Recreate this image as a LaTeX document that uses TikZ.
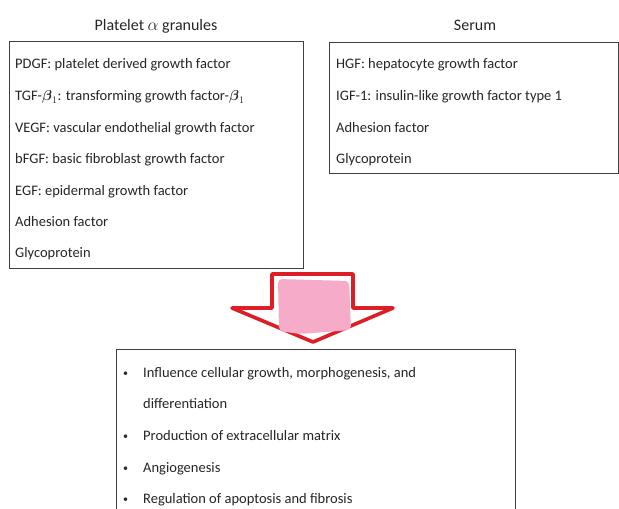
\documentclass[tikz,border=0pt]{standalone}
\usepackage{amsmath}
\usepackage{fontspec}
\setmainfont{Carlito}
\usepackage{xcolor}
\usepackage{tikz}
\usetikzlibrary{positioning}

\definecolor{arrowred}{RGB}{222,30,38}
\definecolor{blobpink}{RGB}{246,172,200}

\begin{document}
\begin{tikzpicture}[
  x=1pt, y=-1pt,
  entry/.style={anchor=base west, inner sep=0pt, text=black!85, font=\fontsize{14.5}{17}\selectfont},
  heading/.style={anchor=base, inner sep=0pt, text=black!85, font=\fontsize{16}{19}\selectfont},
  frame/.style={draw=black!75, line width=0.9pt},
  bigarrow/.style={draw=arrowred, line width=3.6pt, line join=round, fill=white}
]
  \clip (0,0) rectangle (619,509);
  \fill[white] (0,0) rectangle (619,509);

  % headings
  \node[heading] (plt) at (156,30) {Platelet $\alpha$ granules};
  \node[heading] (ser) at (475,30) {Serum};

  % left box
  \draw[frame] (9,41) rectangle (303,268);
  \node[entry] (pdgf) at (15,68)  {PDGF: platelet derived growth factor};
  \node[entry] (tgf)  at (15,100) {TGF-$\boldsymbol{\beta}_1$: transforming growth factor-$\boldsymbol{\beta}_1$};
  \node[entry] (vegf) at (15,132) {VEGF: vascular endothelial growth factor};
  \node[entry] (bfgf) at (15,163) {bFGF: basic fibroblast growth factor};
  \node[entry] (egf)  at (15,195) {EGF: epidermal growth factor};
  \node[entry] (adl)  at (15,226) {Adhesion factor};
  \node[entry] (gpl)  at (15,257) {Glycoprotein};

  % right box
  \draw[frame] (329,42) rectangle (618,173);
  \node[entry] (hgf)  at (336,68)  {HGF: hepatocyte growth factor};
  \node[entry] (igf)  at (336,100) {IGF-1: insulin-like growth factor type 1};
  \node[entry] (adr)  at (336,132) {Adhesion factor};
  \node[entry] (gpr)  at (336,163) {Glycoprotein};

  % arrow
  \draw[bigarrow] (272,274) -- (353,274) -- (353,308) -- (393,308)
    -- (313,342) -- (232,308) -- (272,308) -- cycle;
  \fill[blobpink, rounded corners=4pt] (278,279) -- (349,281) -- (351,330)
    -- (300,334) -- (279,331) -- cycle;

  % bottom box
  \draw[frame] (116,349) rectangle (515,530);
  \foreach \yy in {377,440,472,503}
    \node[entry, font=\fontsize{10}{12}\selectfont] at (123,\yy-1) {\textbullet};
  \node[entry] (infl) at (143,377) {Influence cellular growth, morphogenesis, and};
  \node[entry] (diff) at (143,408) {differentiation};
  \node[entry] (ecm)  at (143,440) {Production of extracellular matrix};
  \node[entry] (ang)  at (143,472) {Angiogenesis};
  \node[entry] (apo)  at (143,503) {Regulation of apoptosis and fibrosis};
\end{tikzpicture}
\end{document}
